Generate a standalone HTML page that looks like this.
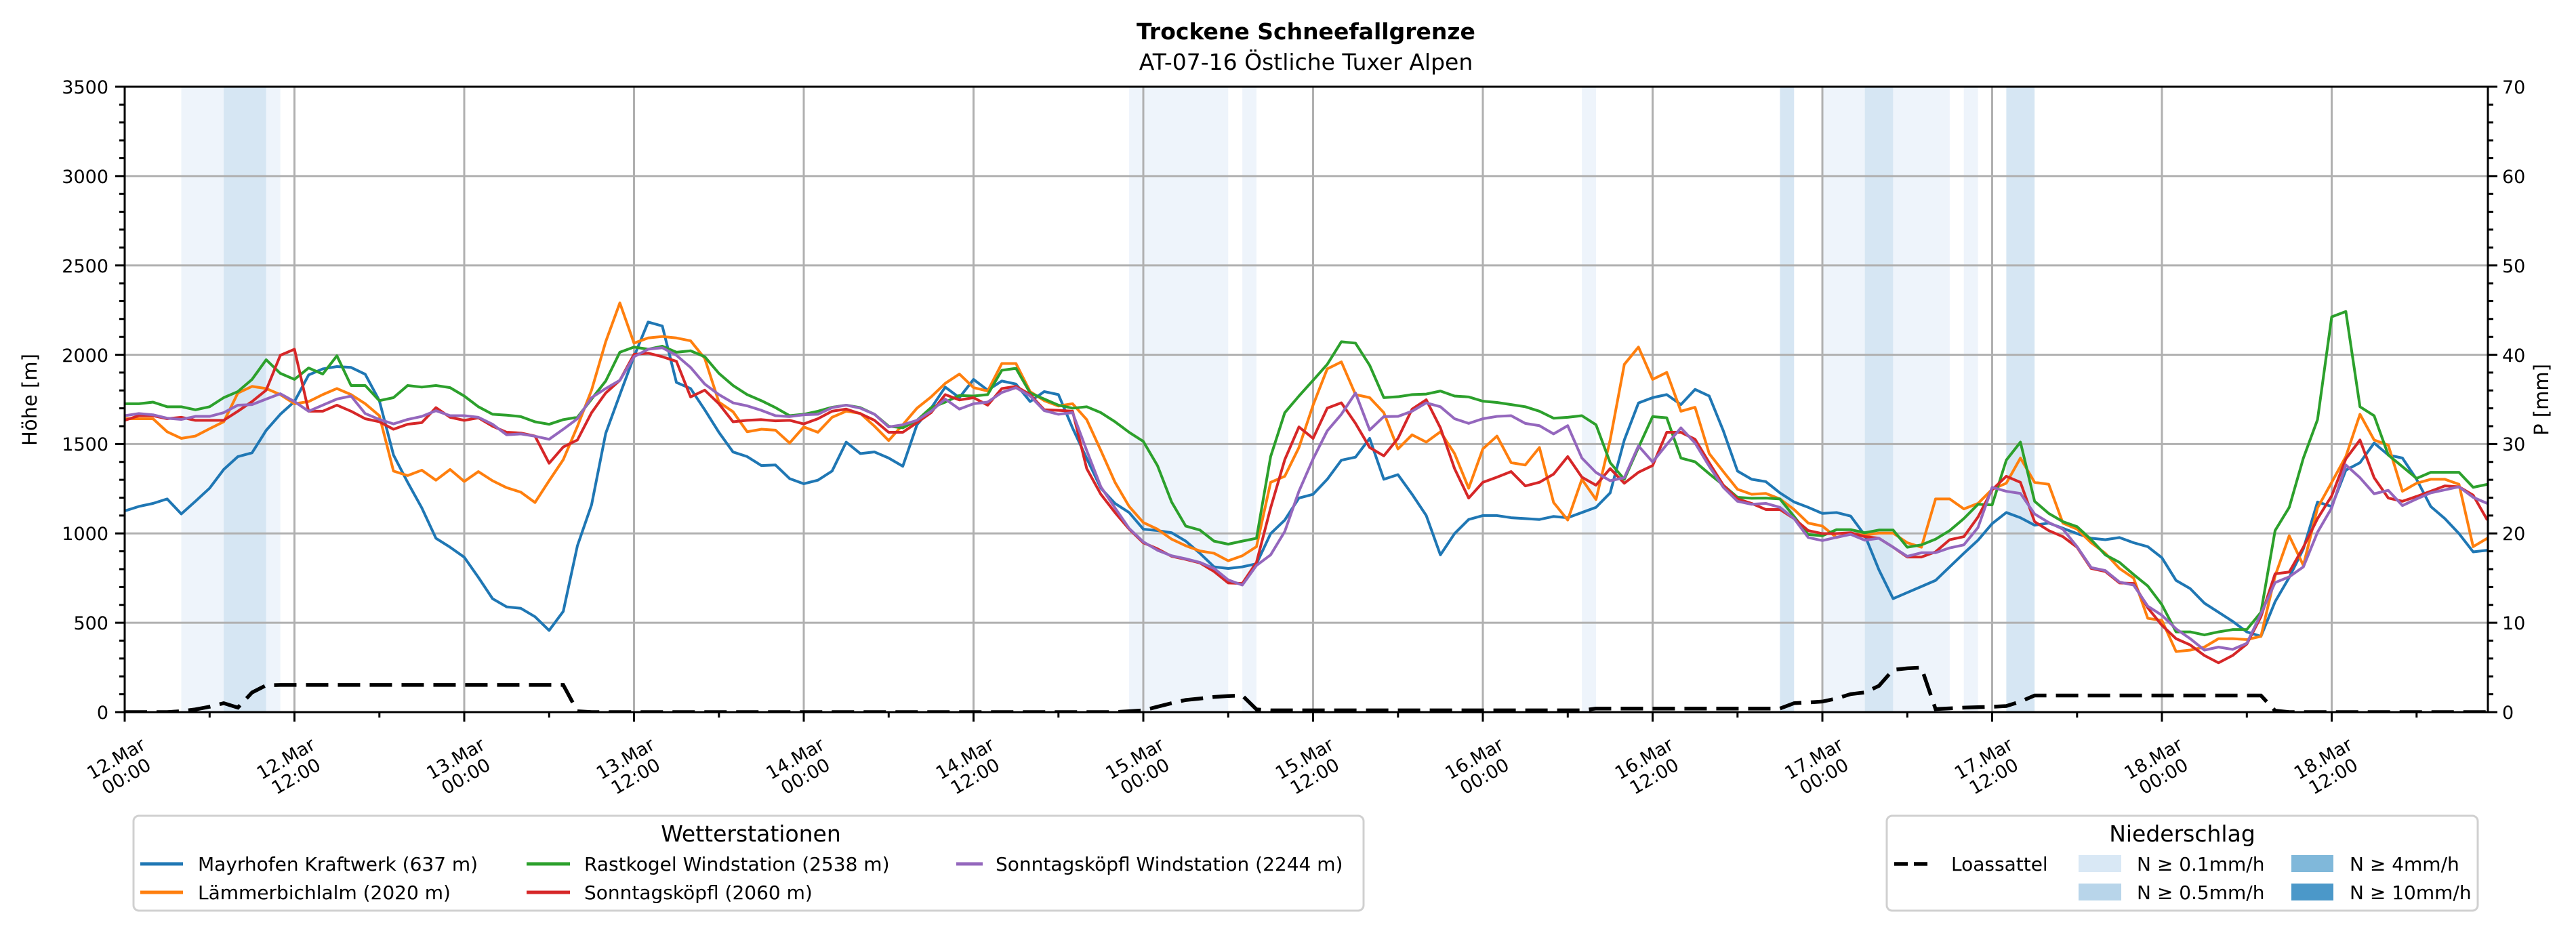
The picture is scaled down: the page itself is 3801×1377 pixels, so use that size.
<!DOCTYPE html>
<html><head><meta charset="utf-8"><style>
html,body{margin:0;padding:0;background:#fff;}
svg{display:block;font-family:"DejaVu Sans","Liberation Sans",sans-serif;}
</style></head><body>
<svg width="3801" height="1377" viewBox="0 0 3801 1377" xmlns="http://www.w3.org/2000/svg">
<defs><clipPath id="c"><rect x="184" y="128" width="3487" height="923"/></clipPath></defs>
<rect width="3801" height="1377" fill="#fff"/>
<text x="1927" y="58" text-anchor="middle" font-size="33" font-weight="bold">Trockene Schneefallgrenze</text>
<text x="1927" y="103" text-anchor="middle" font-size="33">AT-07-16 Östliche Tuxer Alpen</text>
<g transform="translate(184,1051) scale(20.875,-0.26371)">
<g fill="#eef4fb">
<rect x="4" y="0" width="3" height="3500"/><rect x="10" y="0" width="1" height="3500"/>
<rect x="71" y="0" width="7" height="3500"/><rect x="79" y="0" width="1" height="3500"/>
<rect x="103" y="0" width="1" height="3500"/><rect x="120" y="0" width="3" height="3500"/>
<rect x="125" y="0" width="4" height="3500"/><rect x="130" y="0" width="1" height="3500"/>
</g>
<g fill="#d6e6f3">
<rect x="7" y="0" width="3" height="3500"/><rect x="117" y="0" width="1" height="3500"/>
<rect x="123" y="0" width="2" height="3500"/><rect x="133" y="0" width="2" height="3500"/>
</g>
</g>
<g stroke="#b0b0b0" stroke-width="3">
<line x1="434.5" y1="128" x2="434.5" y2="1051"/><line x1="685" y1="128" x2="685" y2="1051"/>
<line x1="935.5" y1="128" x2="935.5" y2="1051"/><line x1="1186" y1="128" x2="1186" y2="1051"/>
<line x1="1436.5" y1="128" x2="1436.5" y2="1051"/><line x1="1687" y1="128" x2="1687" y2="1051"/>
<line x1="1937.5" y1="128" x2="1937.5" y2="1051"/><line x1="2188" y1="128" x2="2188" y2="1051"/>
<line x1="2438.5" y1="128" x2="2438.5" y2="1051"/><line x1="2689" y1="128" x2="2689" y2="1051"/>
<line x1="2939.5" y1="128" x2="2939.5" y2="1051"/><line x1="3190" y1="128" x2="3190" y2="1051"/>
<line x1="3440.5" y1="128" x2="3440.5" y2="1051"/>
<line x1="184" y1="919.1" x2="3671" y2="919.1"/><line x1="184" y1="787.3" x2="3671" y2="787.3"/>
<line x1="184" y1="655.4" x2="3671" y2="655.4"/><line x1="184" y1="523.6" x2="3671" y2="523.6"/>
<line x1="184" y1="391.7" x2="3671" y2="391.7"/><line x1="184" y1="259.9" x2="3671" y2="259.9"/>
</g>
<g clip-path="url(#c)">
<g transform="translate(184,1051) scale(20.875,-0.26371)" fill="none" stroke-width="4" stroke-linejoin="round">
<polyline vector-effect="non-scaling-stroke" stroke="#1f77b4" points="0,1126 1,1151 2,1168 3,1193 4,1109 5,1180 6,1253 7,1358 8,1430 9,1451 10,1577 11,1667 12,1738 13,1887 14,1921 15,1934 16,1929 17,1891 18,1743 19,1439 20,1286 21,1143 22,973 23,923 24,867 25,754 26,635 27,589 28,581 29,534 30,457 31,564 32,931 33,1160 34,1560 35,1777 36,1990 37,2183 38,2161 39,1845 40,1811 41,1692 42,1566 43,1456 44,1430 45,1380 46,1383 47,1307 48,1278 49,1298 50,1349 51,1511 52,1447 53,1456 54,1422 55,1376 56,1608 57,1701 58,1819 59,1760 60,1862 61,1802 62,1853 63,1836 64,1738 65,1794 66,1777 67,1590 68,1420 69,1253 70,1168 71,1117 72,1024 73,1016 74,1004 75,957 76,889 77,813 78,804 79,813 80,830 81,999 82,1075 83,1198 84,1219 85,1303 86,1410 87,1427 88,1532 89,1303 90,1329 91,1219 92,1100 93,880 94,999 95,1078 96,1100 97,1100 98,1088 99,1083 100,1078 101,1095 102,1088 103,1117 104,1146 105,1227 106,1523 107,1730 108,1760 109,1777 110,1721 111,1806 112,1769 113,1574 114,1349 115,1303 116,1290 117,1227 118,1176 119,1146 120,1112 121,1117 122,1097 123,990 124,796 125,635 126,669 127,703 128,737 129,813 130,889 131,962 132,1055 133,1117 134,1088 135,1046 136,1058 137,1029 138,999 139,973 140,965 141,977 142,948 143,926 144,864 145,737 146,691 147,610 148,559 149,508 150,449 151,424 152,618 153,754 154,914 155,1176 156,1151 157,1354 158,1396 159,1506 160,1439 161,1422 162,1303 163,1151 164,1083 165,999 166,897 167,906"/>
<polyline vector-effect="non-scaling-stroke" stroke="#ff7f0e" points="0,1642 1,1642 2,1642 3,1569 4,1532 5,1545 6,1586 7,1625 8,1786 9,1823 10,1811 11,1777 12,1726 13,1738 14,1777 15,1811 16,1777 17,1726 18,1659 19,1349 20,1324 21,1354 22,1298 23,1358 24,1291 25,1346 26,1295 27,1256 28,1231 29,1173 30,1295 31,1413 32,1599 33,1802 34,2073 35,2290 36,2065 37,2094 38,2102 39,2094 40,2078 41,1980 42,1735 43,1681 44,1569 45,1583 46,1578 47,1506 48,1596 49,1566 50,1650 51,1684 52,1672 53,1600 54,1520 55,1608 56,1701 57,1764 58,1840 59,1892 60,1816 61,1797 62,1951 63,1951 64,1794 65,1743 66,1713 67,1726 68,1637 69,1464 70,1286 71,1151 72,1061 73,1024 74,968 75,931 76,902 77,889 78,847 79,875 80,926 81,1286 82,1320 83,1481 84,1718 85,1921 86,1960 87,1777 88,1760 89,1676 90,1473 91,1552 92,1511 93,1569 94,1447 95,1253 96,1473 97,1545 98,1396 99,1383 100,1481 101,1173 102,1075 103,1303 104,1190 105,1523 106,1946 107,2043 108,1862 109,1901 110,1684 111,1706 112,1447 113,1346 114,1247 115,1219 116,1224 117,1193 118,1134 119,1058 120,1041 121,977 122,999 123,990 124,1002 125,1002 126,948 127,923 128,1193 129,1193 130,1137 131,1168 132,1247 133,1281 134,1422 135,1286 136,1275 137,1058 138,1024 139,948 140,889 141,804 142,750 143,525 144,513 145,339 146,347 147,364 148,411 149,411 150,406 151,424 152,762 153,987 154,821 155,1143 156,1286 157,1430 158,1667 159,1523 160,1494 161,1236 162,1281 163,1303 164,1303 165,1275 166,926 167,973"/>
<polyline vector-effect="non-scaling-stroke" stroke="#2ca02c" points="0,1726 1,1726 2,1735 3,1709 4,1709 5,1692 6,1709 7,1760 8,1794 9,1862 10,1972 11,1896 12,1862 13,1926 14,1892 15,1994 16,1828 17,1828 18,1743 19,1760 20,1828 21,1819 22,1828 23,1816 24,1769 25,1709 26,1667 27,1662 28,1654 29,1625 30,1611 31,1637 32,1650 33,1752 34,1853 35,2014 36,2043 37,2031 38,2048 39,2014 40,2022 41,1989 42,1896 43,1828 44,1777 45,1743 46,1704 47,1659 48,1667 49,1684 50,1706 51,1718 52,1704 53,1667 54,1600 55,1591 56,1633 57,1704 58,1735 59,1772 60,1769 61,1777 62,1913 63,1924 64,1786 65,1752 66,1718 67,1701 68,1709 69,1676 70,1625 71,1566 72,1515 73,1380 74,1176 75,1041 76,1019 77,957 78,940 79,957 80,973 81,1430 82,1676 83,1769 84,1857 85,1946 86,2073 87,2065 88,1941 89,1760 90,1765 91,1777 92,1780 93,1797 94,1769 95,1764 96,1740 97,1733 98,1721 99,1709 100,1684 101,1645 102,1650 103,1659 104,1608 105,1396 106,1303 107,1481 108,1654 109,1647 110,1422 111,1401 112,1334 113,1270 114,1202 115,1197 116,1198 117,1193 118,1095 119,994 120,987 121,1021 122,1021 123,1004 124,1019 125,1019 126,923 127,936 128,968 129,1016 130,1083 131,1163 132,1160 133,1410 134,1511 135,1180 136,1112 137,1066 138,1038 139,965 140,880 141,838 142,770 143,706 144,601 145,449 146,449 147,432 148,449 149,462 150,462 151,559 152,1016 153,1146 154,1422 155,1637 156,2212 157,2242 158,1709 159,1659 160,1439 161,1374 162,1308 163,1342 164,1342 165,1342 166,1258 167,1275"/>
<polyline vector-effect="non-scaling-stroke" stroke="#d62728" points="0,1633 1,1659 2,1659 3,1642 4,1650 5,1633 6,1633 7,1633 8,1684 9,1738 10,1802 11,1997 12,2031 13,1684 14,1684 15,1718 16,1684 17,1642 18,1625 19,1583 20,1611 21,1620 22,1704 23,1650 24,1633 25,1647 26,1600 27,1566 28,1562 29,1545 30,1393 31,1484 32,1523 33,1676 34,1786 35,1857 36,2002 37,2009 38,1989 39,1963 40,1764 41,1802 42,1726 43,1625 44,1633 45,1637 46,1630 47,1633 48,1613 49,1642 50,1684 51,1696 52,1670 53,1633 54,1566 55,1566 56,1620 57,1676 58,1777 59,1747 60,1760 61,1718 62,1811 63,1823 64,1777 65,1692 66,1689 67,1684 68,1363 69,1219 70,1117 71,1024 72,948 73,914 74,872 75,855 76,835 77,787 78,723 79,720 80,838 81,1143 82,1413 83,1596 84,1532 85,1701 86,1731 87,1616 88,1481 89,1434 90,1532 91,1696 92,1748 93,1591 94,1363 95,1198 96,1286 97,1315 98,1346 99,1266 100,1286 101,1332 102,1430 103,1315 104,1270 105,1363 106,1281 107,1342 108,1380 109,1566 110,1566 111,1527 112,1396 113,1270 114,1193 115,1168 116,1134 117,1134 118,1083 119,1016 120,999 121,999 122,1004 123,982 124,973 125,923 126,868 127,868 128,897 129,965 130,982 131,1092 132,1244 133,1320 134,1286 135,1066 136,1016 137,982 138,923 139,804 140,787 141,723 142,720 143,584 144,486 145,411 146,376 147,317 148,276 149,317 150,381 151,534 152,774 153,784 154,923 155,1083 156,1210 157,1417 158,1523 159,1312 160,1198 161,1180 162,1207 163,1236 164,1266 165,1261 166,1214 167,1075"/>
<polyline vector-effect="non-scaling-stroke" stroke="#9467bd" points="0,1659 1,1671 2,1664 3,1645 4,1638 5,1655 6,1655 7,1676 8,1718 9,1721 10,1752 11,1782 12,1738 13,1684 14,1718 15,1752 16,1769 17,1671 18,1638 19,1613 20,1638 21,1655 22,1687 23,1659 24,1659 25,1650 26,1611 27,1552 28,1557 29,1544 30,1527 31,1583 32,1642 33,1760 34,1811 35,1857 36,1989 37,2031 38,2039 39,1997 40,1929 41,1836 42,1777 43,1731 44,1714 45,1689 46,1659 47,1654 48,1664 49,1667 50,1704 51,1718 52,1701 53,1667 54,1596 55,1608 56,1633 57,1684 58,1752 59,1696 60,1726 61,1735 62,1789 63,1816 64,1769 65,1687 66,1667 67,1676 68,1464 69,1261 70,1143 71,1028 72,953 73,906 74,875 75,858 76,838 77,804 78,740 79,711 80,821 81,880 82,1011 83,1236 84,1417 85,1574 86,1667 87,1786 88,1579 89,1654 90,1655 91,1684 92,1731 93,1709 94,1642 95,1616 96,1642 97,1655 98,1659 99,1616 100,1603 101,1557 102,1603 103,1422 104,1341 105,1295 106,1312 107,1490 108,1400 109,1498 110,1591 111,1506 112,1376 113,1258 114,1180 115,1163 116,1168 117,1146 118,1083 119,977 120,960 121,978 122,995 123,962 124,973 125,923 126,872 127,892 128,892 129,919 130,936 131,1033 132,1258 133,1236 134,1224 135,1109 136,1061 137,1024 138,926 139,809 140,792 141,728 142,711 143,593 144,542 145,466 146,411 147,347 148,364 149,351 150,385 151,550 152,725 153,757 154,813 155,1007 156,1143 157,1383 158,1312 159,1222 160,1241 161,1156 162,1193 163,1227 164,1244 165,1261 166,1202 167,1168"/>
</g>
<polyline fill="none" stroke="#000" stroke-width="5.5" stroke-dasharray="33,14" points="184,1051 246.6,1051 267.5,1049.7 288.4,1047 309.3,1043.1 330.1,1037.8 351,1044.4 371.9,1022 392.8,1011.4 413.6,1010.9 831.1,1010.9 852,1049.7 872.9,1051 1645.3,1051 1666.1,1049.7 1687,1048.4 1707.9,1043.1 1728.8,1037.8 1749.6,1033.1 1770.5,1031 1791.4,1028.6 1812.3,1027.3 1833.1,1026.5 1854,1047 1874.9,1048.4 2334.1,1048.4 2355,1045.7 2626.4,1045.7 2647.3,1037.8 2668.1,1036.8 2689,1035.4 2709.9,1031 2730.8,1024.4 2751.6,1022 2772.5,1012.2 2793.4,988.5 2814.3,986.4 2835.1,985.3 2856,1046.5 2897.8,1044.4 2939.5,1043.1 2960.4,1042 2981.3,1035.4 3002.1,1026.5 3336.1,1026.5 3357,1048.9 3377.9,1051 3671,1051"/>
</g>
<g stroke="#000" stroke-width="3" fill="none">
<rect x="184" y="128" width="3487" height="923"/>
</g>
<g stroke="#000" stroke-width="3">
<path d="M184,1051h-14M184,919.1h-14M184,787.3h-14M184,655.4h-14M184,523.6h-14M184,391.7h-14M184,259.9h-14M184,128h-14"/>
<path d="M3671,1051h14M3671,919.1h14M3671,787.3h14M3671,655.4h14M3671,523.6h14M3671,391.7h14M3671,259.9h14M3671,128h14"/>
<path d="M184,1024.6h-8M184,998.3h-8M184,971.9h-8M184,945.5h-8M184,892.7h-8M184,866.4h-8M184,840h-8M184,813.6h-8M184,760.9h-8M184,734.5h-8M184,708.1h-8M184,681.8h-8M184,629h-8M184,602.6h-8M184,576.3h-8M184,549.9h-8M184,497.2h-8M184,470.8h-8M184,444.4h-8M184,418.1h-8M184,365.3h-8M184,338.9h-8M184,312.6h-8M184,286.2h-8M184,233.5h-8M184,207.1h-8M184,180.7h-8M184,154.4h-8"/>
<path d="M3671,1024.6h8M3671,998.3h8M3671,971.9h8M3671,945.5h8M3671,892.7h8M3671,866.4h8M3671,840h8M3671,813.6h8M3671,760.9h8M3671,734.5h8M3671,708.1h8M3671,681.8h8M3671,629h8M3671,602.6h8M3671,576.3h8M3671,549.9h8M3671,497.2h8M3671,470.8h8M3671,444.4h8M3671,418.1h8M3671,365.3h8M3671,338.9h8M3671,312.6h8M3671,286.2h8M3671,233.5h8M3671,207.1h8M3671,180.7h8M3671,154.4h8"/>
<path d="M184,1051v14M434.5,1051v14M685,1051v14M935.5,1051v14M1186,1051v14M1436.5,1051v14M1687,1051v14M1937.5,1051v14M2188,1051v14M2438.5,1051v14M2689,1051v14M2939.5,1051v14M3190,1051v14M3440.5,1051v14"/>
<path d="M309.3,1051v8M559.8,1051v8M810.3,1051v8M1060.8,1051v8M1311.3,1051v8M1561.8,1051v8M1812.3,1051v8M2062.8,1051v8M2313.3,1051v8M2563.8,1051v8M2814.3,1051v8M3064.8,1051v8M3315.3,1051v8M3565.8,1051v8"/>
</g>
<g font-size="27" text-anchor="end">
<text x="160" y="1061">0</text><text x="160" y="929">500</text><text x="160" y="797">1000</text><text x="160" y="665">1500</text><text x="160" y="534">2000</text><text x="160" y="402">2500</text><text x="160" y="270">3000</text><text x="160" y="138">3500</text>
</g>
<g font-size="27">
<text x="3692" y="1061">0</text><text x="3692" y="929">10</text><text x="3692" y="797">20</text><text x="3692" y="665">30</text><text x="3692" y="534">40</text><text x="3692" y="402">50</text><text x="3692" y="270">60</text><text x="3692" y="138">70</text>
</g>
<text transform="translate(54,590) rotate(-90)" text-anchor="middle" font-size="29">Höhe [m]</text>
<text transform="translate(3760,590) rotate(-90)" text-anchor="middle" font-size="29">P [mm]</text>
<g font-size="27" text-anchor="middle">
<text transform="translate(179,1133) rotate(-30)"><tspan x="0" y="-6">12.Mar</tspan><tspan x="0" y="24">00:00</tspan></text>
<text transform="translate(429.5,1133) rotate(-30)"><tspan x="0" y="-6">12.Mar</tspan><tspan x="0" y="24">12:00</tspan></text>
<text transform="translate(680,1133) rotate(-30)"><tspan x="0" y="-6">13.Mar</tspan><tspan x="0" y="24">00:00</tspan></text>
<text transform="translate(930.5,1133) rotate(-30)"><tspan x="0" y="-6">13.Mar</tspan><tspan x="0" y="24">12:00</tspan></text>
<text transform="translate(1181,1133) rotate(-30)"><tspan x="0" y="-6">14.Mar</tspan><tspan x="0" y="24">00:00</tspan></text>
<text transform="translate(1431.5,1133) rotate(-30)"><tspan x="0" y="-6">14.Mar</tspan><tspan x="0" y="24">12:00</tspan></text>
<text transform="translate(1682,1133) rotate(-30)"><tspan x="0" y="-6">15.Mar</tspan><tspan x="0" y="24">00:00</tspan></text>
<text transform="translate(1932.5,1133) rotate(-30)"><tspan x="0" y="-6">15.Mar</tspan><tspan x="0" y="24">12:00</tspan></text>
<text transform="translate(2183,1133) rotate(-30)"><tspan x="0" y="-6">16.Mar</tspan><tspan x="0" y="24">00:00</tspan></text>
<text transform="translate(2433.5,1133) rotate(-30)"><tspan x="0" y="-6">16.Mar</tspan><tspan x="0" y="24">12:00</tspan></text>
<text transform="translate(2684,1133) rotate(-30)"><tspan x="0" y="-6">17.Mar</tspan><tspan x="0" y="24">00:00</tspan></text>
<text transform="translate(2934.5,1133) rotate(-30)"><tspan x="0" y="-6">17.Mar</tspan><tspan x="0" y="24">12:00</tspan></text>
<text transform="translate(3185,1133) rotate(-30)"><tspan x="0" y="-6">18.Mar</tspan><tspan x="0" y="24">00:00</tspan></text>
<text transform="translate(3435.5,1133) rotate(-30)"><tspan x="0" y="-6">18.Mar</tspan><tspan x="0" y="24">12:00</tspan></text>
</g>
<rect x="197" y="1204" width="1815" height="140" rx="8" fill="#fff" stroke="#d0d0d0" stroke-width="3"/>
<text x="1108" y="1242" text-anchor="middle" font-size="33">Wetterstationen</text>
<g stroke-width="5">
<line x1="207" y1="1275" x2="270" y2="1275" stroke="#1f77b4"/>
<line x1="207" y1="1317" x2="270" y2="1317" stroke="#ff7f0e"/>
<line x1="777" y1="1275" x2="841" y2="1275" stroke="#2ca02c"/>
<line x1="777" y1="1317" x2="841" y2="1317" stroke="#d62728"/>
<line x1="1411" y1="1275" x2="1450" y2="1275" stroke="#9467bd"/>
</g>
<g font-size="28">
<text x="292" y="1285">Mayrhofen Kraftwerk (637 m)</text>
<text x="292" y="1327">Lämmerbichlalm (2020 m)</text>
<text x="862" y="1285">Rastkogel Windstation (2538 m)</text>
<text x="862" y="1327">Sonntagsköpfl (2060 m)</text>
<text x="1469" y="1285">Sonntagsköpfl Windstation (2244 m)</text>
</g>
<rect x="2784" y="1204" width="872" height="140" rx="8" fill="#fff" stroke="#d0d0d0" stroke-width="3"/>
<text x="3220" y="1242" text-anchor="middle" font-size="33">Niederschlag</text>
<line x1="2795" y1="1275" x2="2852" y2="1275" stroke="#000" stroke-width="5.5" stroke-dasharray="20,9"/>
<rect x="3067" y="1262" width="63" height="25" fill="#d9e8f5"/>
<rect x="3067" y="1304" width="63" height="25" fill="#b8d5ea"/>
<rect x="3381" y="1262" width="62" height="25" fill="#80b8da"/>
<rect x="3381" y="1304" width="62" height="25" fill="#4b98c9"/>
<g font-size="28">
<text x="2879" y="1285">Loassattel</text>
<text x="3153" y="1285">N ≥ 0.1mm/h</text>
<text x="3153" y="1327">N ≥ 0.5mm/h</text>
<text x="3467" y="1285">N ≥ 4mm/h</text>
<text x="3467" y="1327">N ≥ 10mm/h</text>
</g>
</svg>
</body></html>
